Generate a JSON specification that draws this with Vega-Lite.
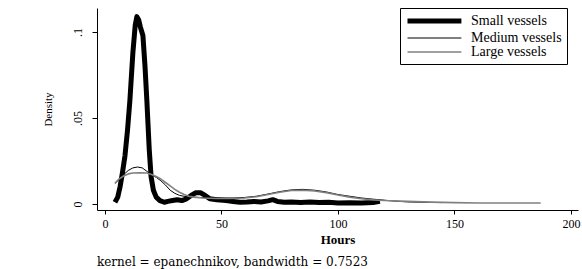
{
  "$schema": "https://vega.github.io/schema/vega-lite/v6.json",
  "width": 481,
  "height": 202,
  "autosize": {"type": "none"},
  "padding": {"left": 97, "top": 8, "right": 4, "bottom": 59},
  "background": "white",
  "config": {
    "view": {"stroke": null},
    "font": "Liberation Serif",
    "axis": {"grid": false, "domainColor": "black", "tickColor": "black", "labelColor": "black", "titleColor": "black", "labelFont": "Liberation Serif", "titleFont": "Liberation Serif"},
    "legend": {"symbolType": "M-1,0H8.8", "symbolSize": 121, "symbolStrokeColor": "black"}
  },
  "title": {"text": "kernel = epanechnikov, bandwidth = 0.7523", "orient": "bottom", "anchor": "start", "frame": "group", "fontSize": 12, "fontWeight": "normal", "font": "DejaVu Serif", "color": "black", "offset": 11},
  "data": {"values": [
    {"h":4.3,"d":0.001,"g":"Small vessels"},{"h":5.5,"d":0.004,"g":"Small vessels"},{"h":6.5,"d":0.010,"g":"Small vessels"},{"h":7.5,"d":0.018,"g":"Small vessels"},{"h":8.6,"d":0.028,"g":"Small vessels"},{"h":9.7,"d":0.043,"g":"Small vessels"},{"h":10.7,"d":0.060,"g":"Small vessels"},{"h":12.0,"d":0.088,"g":"Small vessels"},{"h":13.0,"d":0.104,"g":"Small vessels"},{"h":13.7,"d":0.109,"g":"Small vessels"},{"h":14.5,"d":0.107,"g":"Small vessels"},{"h":15.2,"d":0.103,"g":"Small vessels"},{"h":16.3,"d":0.098,"g":"Small vessels"},{"h":17.2,"d":0.080,"g":"Small vessels"},{"h":18.0,"d":0.060,"g":"Small vessels"},{"h":19.0,"d":0.032,"g":"Small vessels"},{"h":19.8,"d":0.016,"g":"Small vessels"},{"h":20.8,"d":0.008,"g":"Small vessels"},{"h":22,"d":0.004,"g":"Small vessels"},{"h":23.6,"d":0.002,"g":"Small vessels"},{"h":25.5,"d":0.001,"g":"Small vessels"},{"h":27,"d":0.0015,"g":"Small vessels"},{"h":29,"d":0.002,"g":"Small vessels"},{"h":31,"d":0.0025,"g":"Small vessels"},{"h":33,"d":0.002,"g":"Small vessels"},{"h":35,"d":0.003,"g":"Small vessels"},{"h":37,"d":0.005,"g":"Small vessels"},{"h":39,"d":0.0065,"g":"Small vessels"},{"h":41,"d":0.0065,"g":"Small vessels"},{"h":43,"d":0.005,"g":"Small vessels"},{"h":45,"d":0.003,"g":"Small vessels"},{"h":48,"d":0.0025,"g":"Small vessels"},{"h":52,"d":0.002,"g":"Small vessels"},{"h":55,"d":0.0015,"g":"Small vessels"},{"h":58,"d":0.001,"g":"Small vessels"},{"h":61,"d":0.0012,"g":"Small vessels"},{"h":64,"d":0.0015,"g":"Small vessels"},{"h":67,"d":0.0012,"g":"Small vessels"},{"h":70,"d":0.0018,"g":"Small vessels"},{"h":72,"d":0.0025,"g":"Small vessels"},{"h":74,"d":0.0015,"g":"Small vessels"},{"h":77,"d":0.001,"g":"Small vessels"},{"h":80,"d":0.0012,"g":"Small vessels"},{"h":84,"d":0.0008,"g":"Small vessels"},{"h":88,"d":0.0012,"g":"Small vessels"},{"h":92,"d":0.0008,"g":"Small vessels"},{"h":96,"d":0.001,"g":"Small vessels"},{"h":100,"d":0.0006,"g":"Small vessels"},{"h":105,"d":0.0007,"g":"Small vessels"},{"h":110,"d":0.0006,"g":"Small vessels"},{"h":115,"d":0.0008,"g":"Small vessels"},{"h":118,"d":0.0015,"g":"Small vessels"},
    {"h":4.3,"d":0.012,"g":"Medium vessels"},{"h":6,"d":0.014,"g":"Medium vessels"},{"h":8,"d":0.017,"g":"Medium vessels"},{"h":10,"d":0.0195,"g":"Medium vessels"},{"h":12,"d":0.021,"g":"Medium vessels"},{"h":14,"d":0.0215,"g":"Medium vessels"},{"h":16,"d":0.021,"g":"Medium vessels"},{"h":18,"d":0.019,"g":"Medium vessels"},{"h":20,"d":0.017,"g":"Medium vessels"},{"h":22,"d":0.0155,"g":"Medium vessels"},{"h":24,"d":0.0135,"g":"Medium vessels"},{"h":26,"d":0.011,"g":"Medium vessels"},{"h":28,"d":0.008,"g":"Medium vessels"},{"h":30,"d":0.0062,"g":"Medium vessels"},{"h":32,"d":0.005,"g":"Medium vessels"},{"h":35,"d":0.0042,"g":"Medium vessels"},{"h":40,"d":0.0038,"g":"Medium vessels"},{"h":45,"d":0.0036,"g":"Medium vessels"},{"h":50,"d":0.0035,"g":"Medium vessels"},{"h":55,"d":0.0035,"g":"Medium vessels"},{"h":60,"d":0.0038,"g":"Medium vessels"},{"h":65,"d":0.0045,"g":"Medium vessels"},{"h":70,"d":0.0058,"g":"Medium vessels"},{"h":75,"d":0.0072,"g":"Medium vessels"},{"h":80,"d":0.0082,"g":"Medium vessels"},{"h":85,"d":0.0085,"g":"Medium vessels"},{"h":90,"d":0.008,"g":"Medium vessels"},{"h":95,"d":0.007,"g":"Medium vessels"},{"h":100,"d":0.0055,"g":"Medium vessels"},{"h":105,"d":0.0045,"g":"Medium vessels"},{"h":110,"d":0.0035,"g":"Medium vessels"},{"h":115,"d":0.0028,"g":"Medium vessels"},{"h":120,"d":0.0022,"g":"Medium vessels"},{"h":125,"d":0.0016,"g":"Medium vessels"},{"h":130,"d":0.0012,"g":"Medium vessels"},{"h":135,"d":0.001,"g":"Medium vessels"},{"h":140,"d":0.0009,"g":"Medium vessels"},{"h":145,"d":0.0008,"g":"Medium vessels"},
    {"h":4.3,"d":0.012,"g":"Large vessels"},{"h":6,"d":0.0145,"g":"Large vessels"},{"h":8,"d":0.0163,"g":"Large vessels"},{"h":10,"d":0.0175,"g":"Large vessels"},{"h":12,"d":0.018,"g":"Large vessels"},{"h":15,"d":0.0182,"g":"Large vessels"},{"h":18,"d":0.018,"g":"Large vessels"},{"h":20,"d":0.0172,"g":"Large vessels"},{"h":22,"d":0.016,"g":"Large vessels"},{"h":24,"d":0.0145,"g":"Large vessels"},{"h":26,"d":0.0125,"g":"Large vessels"},{"h":28,"d":0.0105,"g":"Large vessels"},{"h":30,"d":0.0085,"g":"Large vessels"},{"h":32,"d":0.0068,"g":"Large vessels"},{"h":34,"d":0.0055,"g":"Large vessels"},{"h":36,"d":0.0045,"g":"Large vessels"},{"h":38,"d":0.004,"g":"Large vessels"},{"h":42,"d":0.0035,"g":"Large vessels"},{"h":48,"d":0.0032,"g":"Large vessels"},{"h":54,"d":0.0032,"g":"Large vessels"},{"h":60,"d":0.0035,"g":"Large vessels"},{"h":65,"d":0.0042,"g":"Large vessels"},{"h":70,"d":0.0055,"g":"Large vessels"},{"h":75,"d":0.0068,"g":"Large vessels"},{"h":80,"d":0.0078,"g":"Large vessels"},{"h":85,"d":0.008,"g":"Large vessels"},{"h":90,"d":0.0076,"g":"Large vessels"},{"h":95,"d":0.0066,"g":"Large vessels"},{"h":100,"d":0.0052,"g":"Large vessels"},{"h":105,"d":0.004,"g":"Large vessels"},{"h":110,"d":0.003,"g":"Large vessels"},{"h":115,"d":0.0024,"g":"Large vessels"},{"h":120,"d":0.002,"g":"Large vessels"},{"h":130,"d":0.0015,"g":"Large vessels"},{"h":140,"d":0.0011,"g":"Large vessels"},{"h":150,"d":0.0008,"g":"Large vessels"},{"h":160,"d":0.0006,"g":"Large vessels"},{"h":170,"d":0.0006,"g":"Large vessels"},{"h":180,"d":0.0006,"g":"Large vessels"},{"h":187,"d":0.0006,"g":"Large vessels"}
  ]},
  "mark": {"type": "line", "strokeJoin": "round", "strokeCap": "butt"},
  "encoding": {
    "x": {"field": "h", "type": "quantitative", "scale": {"domain": [-3.4, 203], "nice": false, "zero": false},
      "axis": {"values": [0, 50, 100, 150, 200], "title": "Hours", "titleFontSize": 13, "titleFontWeight": "bold", "labelFontSize": 12, "tickSize": 4, "labelPadding": 4, "titlePadding": 4, "domainWidth": 1}},
    "y": {"field": "d", "type": "quantitative", "scale": {"domain": [-0.0035, 0.114], "nice": false, "zero": false},
      "axis": {"values": [0, 0.05, 0.1], "title": "Density", "titleFontSize": 11, "titleFontWeight": "normal", "labelFontSize": 12, "labelAngle": -90, "labelAlign": "center", "labelBaseline": "bottom", "tickSize": 5, "labelPadding": 8, "titlePadding": 18,
        "labelExpr": "datum.value == 0 ? '0' : replace(toString(datum.value), '0.', '.')"}},
    "order": {"field": "h", "type": "quantitative"},
    "color": {"field": "g", "type": "nominal", "scale": {"domain": ["Small vessels", "Medium vessels", "Large vessels"], "range": ["#000000", "#000000", "#808080"]},
      "legend": {"title": null, "orient": "none", "legendX": 303, "legendY": 0, "labelFont": "Liberation Serif", "labelFontSize": 14, "labelColor": "black", "labelOffset": 50, "strokeColor": "black", "padding": 5, "rowPadding": -1, "fillColor": "white"}},
    "strokeWidth": {"field": "g", "type": "nominal", "scale": {"type": "ordinal", "domain": ["Small vessels", "Medium vessels", "Large vessels"], "range": [5, 1, 1.6]},
      "legend": {"title": null, "orient": "none", "legendX": 303, "legendY": 0, "labelFont": "Liberation Serif", "labelFontSize": 14, "labelColor": "black", "labelOffset": 50, "strokeColor": "black", "padding": 5, "rowPadding": -1, "fillColor": "white"}}
  }
}
